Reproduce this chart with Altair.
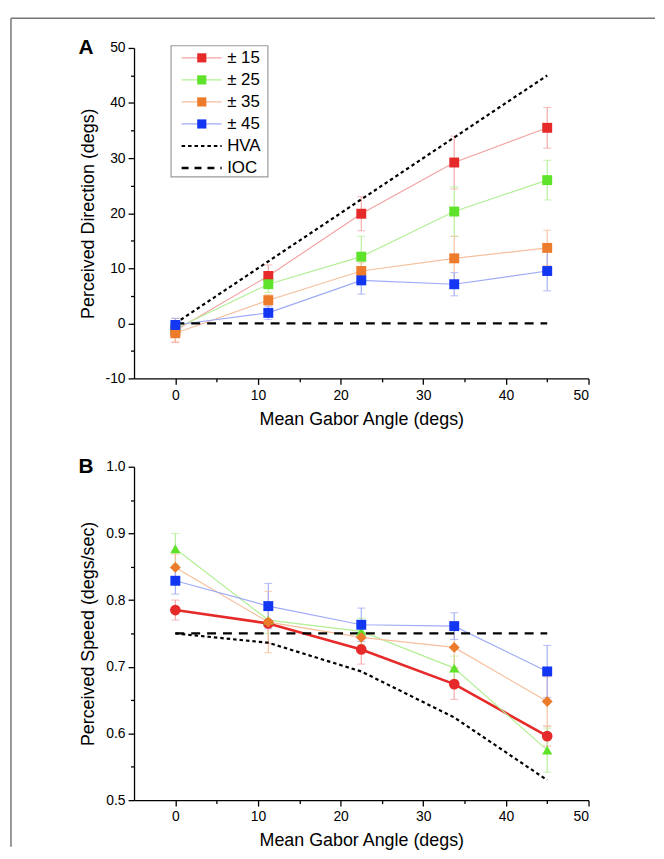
import altair as alt
import pandas as pd

# ---------------- data ----------------
angles = [0, 11.25, 22.5, 33.75, 45]
series = ["± 15", "± 25", "± 35", "± 45"]
marker_colors = ["#e62a2a", "#5fe22a", "#ec7b2c", "#1236f2"]
line_colors = ["#f3a3a3", "#b2ef95", "#f6bf9c", "#9eaaf6"]

# Panel A: perceived direction (degs)
dir_15 = [-1.3, 8.6, 19.9, 29.2, 35.5]
dir_25 = [-1.0, 7.1, 12.1, 20.3, 26.0]
dir_35 = [-1.8, 4.2, 9.5, 11.8, 13.7]
dir_45 = [-0.3, 1.9, 7.8, 7.1, 9.5]
dir_15_err = [2.2, 2.0, 3.1, 4.8, 3.7]
dir_25_err = [1.0, 1.5, 3.7, 4.5, 3.6]
dir_35_err = [1.5, 1.0, 1.5, 4.0, 3.2]
dir_45_err = [1.2, 1.2, 2.5, 2.1, 3.6]
hva_dir_x = [0, 45]
hva_dir = [0, 45]
ioc_dir_x = [0, 45]
ioc_dir = [0, 0]

# Panel B: perceived speed (degs/sec)
spd_15 = [0.785, 0.765, 0.726, 0.674, 0.596]
spd_25 = [0.877, 0.770, 0.753, 0.698, 0.575]
spd_35 = [0.849, 0.767, 0.744, 0.729, 0.648]
spd_45 = [0.829, 0.791, 0.763, 0.761, 0.693]
spd_15_err = [0.015, 0.030, 0.022, 0.023, 0.015]
spd_25_err = [0.023, 0.020, 0.020, 0.018, 0.033]
spd_35_err = [0.020, 0.046, 0.020, 0.030, 0.037]
spd_45_err = [0.020, 0.034, 0.025, 0.020, 0.039]
hva_spd_x = [0, 11.25, 22.5, 33.75, 45]
hva_spd = [0.750, 0.736, 0.693, 0.624, 0.530]
ioc_spd_x = [0, 45]
ioc_spd = [0.75, 0.75]

speed_shapes = ["circle", "triangle-up", "diamond", "square"]
speed_sizes = [115, 105, 120, 100]
speed_widths = [2.6, 1.2, 1.2, 1.2]
speed_line_colors = ["#e62a2a", "#b2ef95", "#f6bf9c", "#9eaaf6"]

FONT = "Liberation Sans"
W = 458


def build(vals, errs, shapes, sizes, widths, lcols):
    pts, caps = [], []
    for i, s in enumerate(series):
        for a, v, e in zip(angles, vals[i], errs[i]):
            pts.append(dict(series=s, x=a, y=v, lo=v - e, hi=v + e,
                            mcol=marker_colors[i], lcol=lcols[i],
                            ecol=line_colors[i], shp=shapes[i], sz=sizes[i], lw=widths[i]))
            caps.append(dict(series=s, x=a, y=v - e, ecol=line_colors[i]))
            caps.append(dict(series=s, x=a, y=v + e, ecol=line_colors[i]))
    return pd.DataFrame(pts), pd.DataFrame(caps)


def xaxis():
    return alt.Axis(values=[0, 5, 10, 15, 20, 25, 30, 35, 40, 45, 50],
                    labelExpr="datum.value % 10 === 0 ? '' + datum.value : ''",
                    tickSize={"condition": {"test": "datum.value % 10 === 0", "value": 6}, "value": 3.5},
                    labelPadding=4, titlePadding=8, title="Mean Gabor Angle (degs)")


XSC = alt.Scale(domain=[-5, 50], nice=False, zero=False)


def panel(pts, caps, yscale, yaxis, ytitle, hva, ioc, height, label, extra=None):
    X = lambda f="x": alt.X(f"{f}:Q", scale=XSC, axis=xaxis(), title="Mean Gabor Angle (degs)")
    Y = lambda f="y": alt.Y(f"{f}:Q", scale=yscale, axis=yaxis, title=ytitle)

    err = alt.Chart(pts).mark_rule(strokeWidth=1.1).encode(
        x=X(), y=Y("lo"), y2="hi:Q", color=alt.Color("ecol:N", scale=None))
    cap = alt.Chart(caps).mark_tick(orient="horizontal", size=8, thickness=1.1).encode(
        x=X(), y=Y(), color=alt.Color("ecol:N", scale=None))
    lines = alt.Chart(pts).mark_line().encode(
        x=X(), y=Y(), detail="series:N",
        color=alt.Color("lcol:N", scale=None),
        strokeWidth=alt.StrokeWidth("lw:Q", scale=None))
    hva_l = alt.Chart(hva).mark_line(color="black", strokeWidth=2.2, strokeDash=[3.5, 3]).encode(x=X(), y=Y())
    ioc_l = alt.Chart(ioc).mark_line(color="black", strokeWidth=2.4, strokeDash=[9, 7]).encode(x=X(), y=Y())
    points = alt.Chart(pts).mark_point(filled=True, opacity=1).encode(
        x=X(), y=Y(), color=alt.Color("mcol:N", scale=None),
        shape=alt.Shape("shp:N", scale=None), size=alt.Size("sz:Q", scale=None))
    lab = alt.Chart(pd.DataFrame({"t": [label]})).mark_text(
        align="left", baseline="middle", fontSize=21, fontWeight="bold", font=FONT, color="black"
    ).encode(x=alt.value(-56), y=alt.value(0), text="t:N")
    layers = [err, cap, lines, hva_l, ioc_l, points, lab]
    if extra is not None:
        layers = extra(X, Y) + layers
    return alt.layer(*layers).properties(width=W, height=height)


# ---------- Panel A ----------
ptsA, capsA = build([dir_15, dir_25, dir_35, dir_45],
                    [dir_15_err, dir_25_err, dir_35_err, dir_45_err],
                    ["square"] * 4, [100] * 4, [1.2] * 4, line_colors)
hvaA = pd.DataFrame({"x": hva_dir_x, "y": hva_dir})
iocA = pd.DataFrame({"x": ioc_dir_x, "y": ioc_dir})

yaxisA = alt.Axis(values=list(range(-10, 51, 5)),
                  labelExpr="datum.value % 10 === 0 ? '' + datum.value : ''",
                  tickSize={"condition": {"test": "datum.value % 10 === 0", "value": 6}, "value": 3.5},
                  labelPadding=3, titlePadding=8)
yscaleA = alt.Scale(domain=[-10, 50], nice=False, zero=False)

legend_labels = series + ["HVA", "IOC"]


def legendA(X, Y):
    top = 48.2
    step = 4.0
    rows = [top - step * i for i in range(len(legend_labels))]
    box = pd.DataFrame({"x": [-0.52], "x2": [11.2], "y": [26.6], "y2": [50.4]})
    box_l = alt.Chart(box).mark_rect(fill="white", stroke="#9a9a9a", strokeWidth=1.2).encode(
        x=X(), x2="x2:Q", y=Y(), y2="y2:Q")
    ser = pd.DataFrame({"x": [0.76] * 4, "x2": [5.6] * 4, "y": rows[:4], "mx": [3.2] * 4,
                        "lcol": line_colors, "mcol": marker_colors})
    ser_l = alt.Chart(ser).mark_rule(strokeWidth=1.2).encode(
        x=X(), x2="x2:Q", y=Y(), color=alt.Color("lcol:N", scale=None))
    ser_p = alt.Chart(ser).mark_point(filled=True, opacity=1, size=85, shape="square").encode(
        x=X("mx"), y=Y(), color=alt.Color("mcol:N", scale=None))
    hva_r = alt.Chart(pd.DataFrame({"x": [0.76], "x2": [5.6], "y": [rows[4]]})).mark_rule(
        color="black", strokeWidth=2.2, strokeDash=[3.5, 3]).encode(x=X(), x2="x2:Q", y=Y())
    ioc_r = alt.Chart(pd.DataFrame({"x": [0.76], "x2": [5.6], "y": [rows[5]]})).mark_rule(
        color="black", strokeWidth=2.4, strokeDash=[7, 6]).encode(x=X(), x2="x2:Q", y=Y())
    txt = pd.DataFrame({"x": [6.27] * len(legend_labels), "y": rows, "t": legend_labels})
    txt_l = alt.Chart(txt).mark_text(align="left", baseline="middle", fontSize=17, font=FONT,
                                     color="black").encode(x=X(), y=Y(), text="t:N")
    frame = pd.DataFrame({"d": [0]})
    fl = alt.Chart(frame).mark_rule(color="#777777", strokeWidth=1.5).encode(
        x=alt.value(-124), y=alt.value(-30), y2=alt.value(805))
    ft = alt.Chart(frame).mark_rule(color="#777777", strokeWidth=1.5).encode(
        x=alt.value(-124), x2=alt.value(525), y=alt.value(-30))
    return [fl, ft, box_l, ser_l, ser_p, hva_r, ioc_r, txt_l]


chartA = panel(ptsA, capsA, yscaleA, yaxisA, "Perceived Direction (degs)", hvaA, iocA, 333, "A",
               extra=legendA)

# ---------- Panel B ----------
ptsB, capsB = build([spd_15, spd_25, spd_35, spd_45],
                    [spd_15_err, spd_25_err, spd_35_err, spd_45_err],
                    speed_shapes, speed_sizes, speed_widths, speed_line_colors)
hvaB = pd.DataFrame({"x": hva_spd_x, "y": hva_spd})
iocB = pd.DataFrame({"x": ioc_spd_x, "y": ioc_spd})
yaxisB = alt.Axis(values=[0.5, 0.55, 0.6, 0.65, 0.7, 0.75, 0.8, 0.85, 0.9, 0.95, 1.0],
                  labelExpr="abs(round(datum.value*10) - datum.value*10) < 0.001 ? format(datum.value, '.1f') : ''",
                  tickSize={"condition": {"test": "abs(round(datum.value*10) - datum.value*10) < 0.001", "value": 6}, "value": 3.5},
                  labelPadding=3, titlePadding=8)
yscaleB = alt.Scale(domain=[0.5, 1.0], nice=False, zero=False)
chartB = panel(ptsB, capsB, yscaleB, yaxisB, "Perceived Speed (degs/sec)", hvaB, iocB, 336, "B")

chart = alt.vconcat(chartA, chartB, spacing=89, bounds="flush").properties(
    padding={"left": 2, "top": 6, "right": 0, "bottom": 0}
).configure_view(stroke=None).configure_axis(
    domainColor="black", domainWidth=1.3, tickColor="black", tickWidth=1.3,
    labelColor="black", titleColor="black", labelFont=FONT, titleFont=FONT,
    labelFontSize=14, titleFontSize=18, titleFontWeight="normal", grid=False
)

chart.save("out.html", embed_options={"renderer": "svg", "actions": False})
